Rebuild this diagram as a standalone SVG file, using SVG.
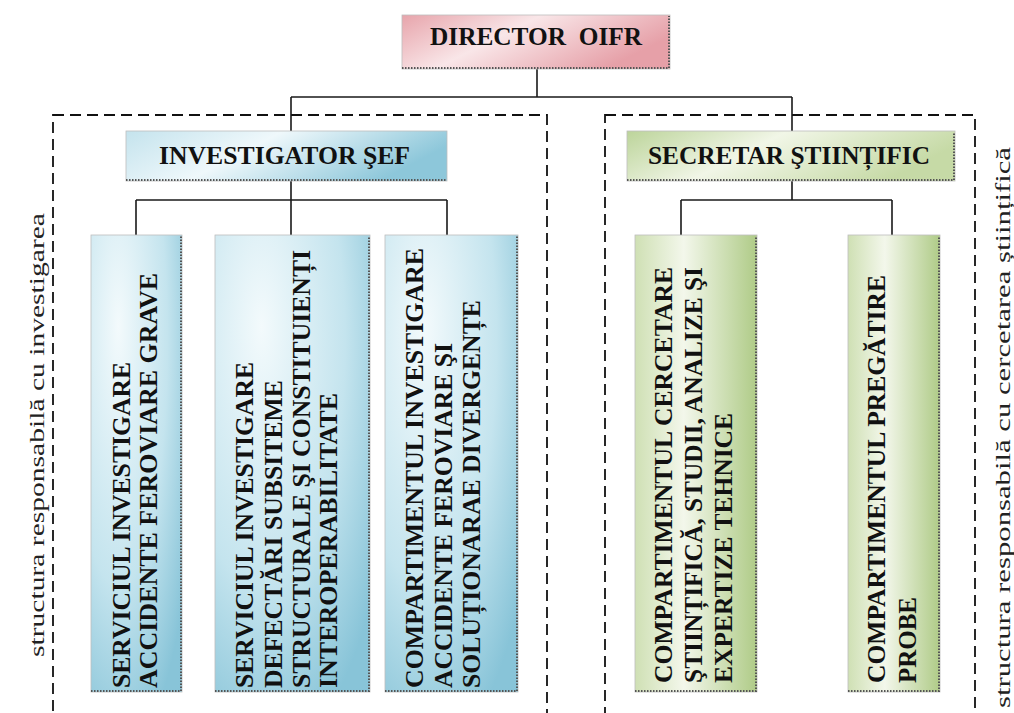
<svg xmlns="http://www.w3.org/2000/svg" width="1014" height="713" viewBox="0 0 1014 713">
<style>
.box{stroke:#bdbdbd;stroke-width:0.8}
.sh{fill:none;stroke:#555;stroke-width:2;stroke-dasharray:1.5 1.5}
.ln{stroke:#1a1a1a;stroke-width:1.6;fill:none}
.dash{fill:none;stroke:#111;stroke-width:1.8;stroke-dasharray:11 6}
.h{font-family:"Liberation Serif","Times New Roman",serif;font-weight:bold;font-size:25px;fill:#111}
.t{font-family:"Liberation Serif","Times New Roman",serif;font-weight:bold;font-size:25px;fill:#111}
.s{font-family:"Liberation Serif","Times New Roman",serif;font-size:20px;fill:#222}
</style>
<defs>
<linearGradient id="gPink" x1="0" y1="0" x2="1" y2="0.4">
<stop offset="0" stop-color="#e7a4ab"/><stop offset="0.45" stop-color="#f9e6e8"/><stop offset="1" stop-color="#e6a0a8"/>
</linearGradient>
<linearGradient id="gBlueH" x1="0" y1="0" x2="1" y2="0.3">
<stop offset="0" stop-color="#c4e3ed"/><stop offset="0.45" stop-color="#eff8fb"/><stop offset="1" stop-color="#8dc7da"/>
</linearGradient>
<linearGradient id="gGreenH" x1="0" y1="0" x2="1" y2="0.3">
<stop offset="0" stop-color="#bcd49a"/><stop offset="0.45" stop-color="#f1f6e7"/><stop offset="1" stop-color="#c6daa6"/>
</linearGradient>
<radialGradient id="gBlueV" cx="0.3" cy="0.25" r="0.9" fx="0.3" fy="0.2">
<stop offset="0" stop-color="#f3fafc"/><stop offset="0.6" stop-color="#c4e4ee"/><stop offset="1" stop-color="#88c4d8"/>
</radialGradient>
<linearGradient id="gGreenV" x1="0" y1="0" x2="1" y2="0">
<stop offset="0" stop-color="#cfe0b4"/><stop offset="0.4" stop-color="#f3f7eb"/><stop offset="1" stop-color="#afcb87"/>
</linearGradient>
</defs>
<rect width="1014" height="713" fill="#ffffff"/>

<g id="groups">
<rect class="dash" x="53" y="115" width="494" height="620"/>
<rect class="dash" x="605" y="115" width="370" height="620"/>
<text class="s" transform="translate(44,657) rotate(-90)" textLength="444" lengthAdjust="spacingAndGlyphs">structura responsabilă cu investigarea</text>
<text class="s" transform="translate(1010,708) rotate(-90)" textLength="561" lengthAdjust="spacingAndGlyphs">structura responsabilă cu cercetarea științifică</text>
</g>

<g id="connectors">
<path class="ln" d="M537 69V97M291 97H792M291 97V131M792 97V131"/>
<path class="ln" d="M291 181V200M136 200H447M136 200V235M291 200V235M447 200V235"/>
<path class="ln" d="M792 181V200M681 200H892M681 200V235M892 200V235"/>
</g>

<g id="director">
<rect class="box" x="402" y="15" width="268" height="54" fill="url(#gPink)"/>
<path class="sh" d="M402 68H669V16"/>
<text class="h" x="430" y="45" textLength="212" lengthAdjust="spacingAndGlyphs">DIRECTOR&#160; OIFR</text>
</g>

<g id="investigator">
<rect class="box" x="126" y="131" width="321" height="50" fill="url(#gBlueH)"/>
<path class="sh" d="M126 180H446"/>
<text class="h" x="159" y="164" textLength="251" lengthAdjust="spacingAndGlyphs">INVESTIGATOR ŞEF</text>
</g>

<g id="secretar">
<rect class="box" x="627" y="131" width="328" height="50" fill="url(#gGreenH)"/>
<path class="sh" d="M627 180H954V132"/>
<text class="h" x="648" y="164" textLength="282" lengthAdjust="spacingAndGlyphs">SECRETAR ŞTIINȚIFIC</text>
</g>

<g id="serviciu-accidente">
<rect class="box" x="91" y="235" width="91" height="457" fill="url(#gBlueV)"/>
<path class="sh" d="M91 691H181V236"/>
<text class="t" transform="translate(130,688) rotate(-90)" textLength="326" lengthAdjust="spacingAndGlyphs">SERVICIUL INVESTIGARE</text>
<text class="t" transform="translate(157,688) rotate(-90)" textLength="415" lengthAdjust="spacingAndGlyphs">ACCIDENTE FEROVIARE GRAVE</text>
</g>

<g id="serviciu-defectari">
<rect class="box" x="215" y="235" width="155" height="457" fill="url(#gBlueV)"/>
<path class="sh" d="M215 691H369V236"/>
<text class="t" transform="translate(253,688) rotate(-90)" textLength="326" lengthAdjust="spacingAndGlyphs">SERVICIUL INVESTIGARE</text>
<text class="t" transform="translate(282,688) rotate(-90)" textLength="308" lengthAdjust="spacingAndGlyphs">DEFECTĂRI SUBSITEME</text>
<text class="t" transform="translate(310,688) rotate(-90)" textLength="438" lengthAdjust="spacingAndGlyphs">STRUCTURALE ŞI CONSTITUIENȚI</text>
<text class="t" transform="translate(337,688) rotate(-90)" textLength="295" lengthAdjust="spacingAndGlyphs">INTEROPERABILITATE</text>
</g>

<g id="compartiment-divergente">
<rect class="box" x="385" y="235" width="133" height="457" fill="url(#gBlueV)"/>
<path class="sh" d="M385 691H517V236"/>
<text class="t" transform="translate(423,688) rotate(-90)" textLength="440" lengthAdjust="spacingAndGlyphs">COMPARTIMENTUL INVESTIGARE</text>
<text class="t" transform="translate(452,688) rotate(-90)" textLength="345" lengthAdjust="spacingAndGlyphs">ACCIDENTE FEROVIARE ŞI</text>
<text class="t" transform="translate(480,688) rotate(-90)" textLength="388" lengthAdjust="spacingAndGlyphs">SOLUȚIONARAE DIVERGENȚE</text>
</g>

<g id="compartiment-cercetare">
<rect class="box" x="635" y="235" width="122" height="457" fill="url(#gGreenV)"/>
<path class="sh" d="M635 691H756V236"/>
<text class="t" transform="translate(672,683) rotate(-90)" textLength="416" lengthAdjust="spacingAndGlyphs">COMPARTIMENTUL CERCETARE</text>
<text class="t" transform="translate(702,683) rotate(-90)" textLength="416" lengthAdjust="spacingAndGlyphs">ŞTIINȚIFICĂ, STUDII, ANALIZE ŞI</text>
<text class="t" transform="translate(732,683) rotate(-90)" textLength="270" lengthAdjust="spacingAndGlyphs">EXPERTIZE TEHNICE</text>
</g>

<g id="compartiment-probe">
<rect class="box" x="848" y="235" width="92" height="457" fill="url(#gGreenV)"/>
<path class="sh" d="M848 691H939V236"/>
<text class="t" transform="translate(885,683) rotate(-90)" textLength="408" lengthAdjust="spacingAndGlyphs">COMPARTIMENTUL PREGĂTIRE</text>
<text class="t" transform="translate(916,683) rotate(-90)" textLength="86" lengthAdjust="spacingAndGlyphs">PROBE</text>
</g>
</svg>
